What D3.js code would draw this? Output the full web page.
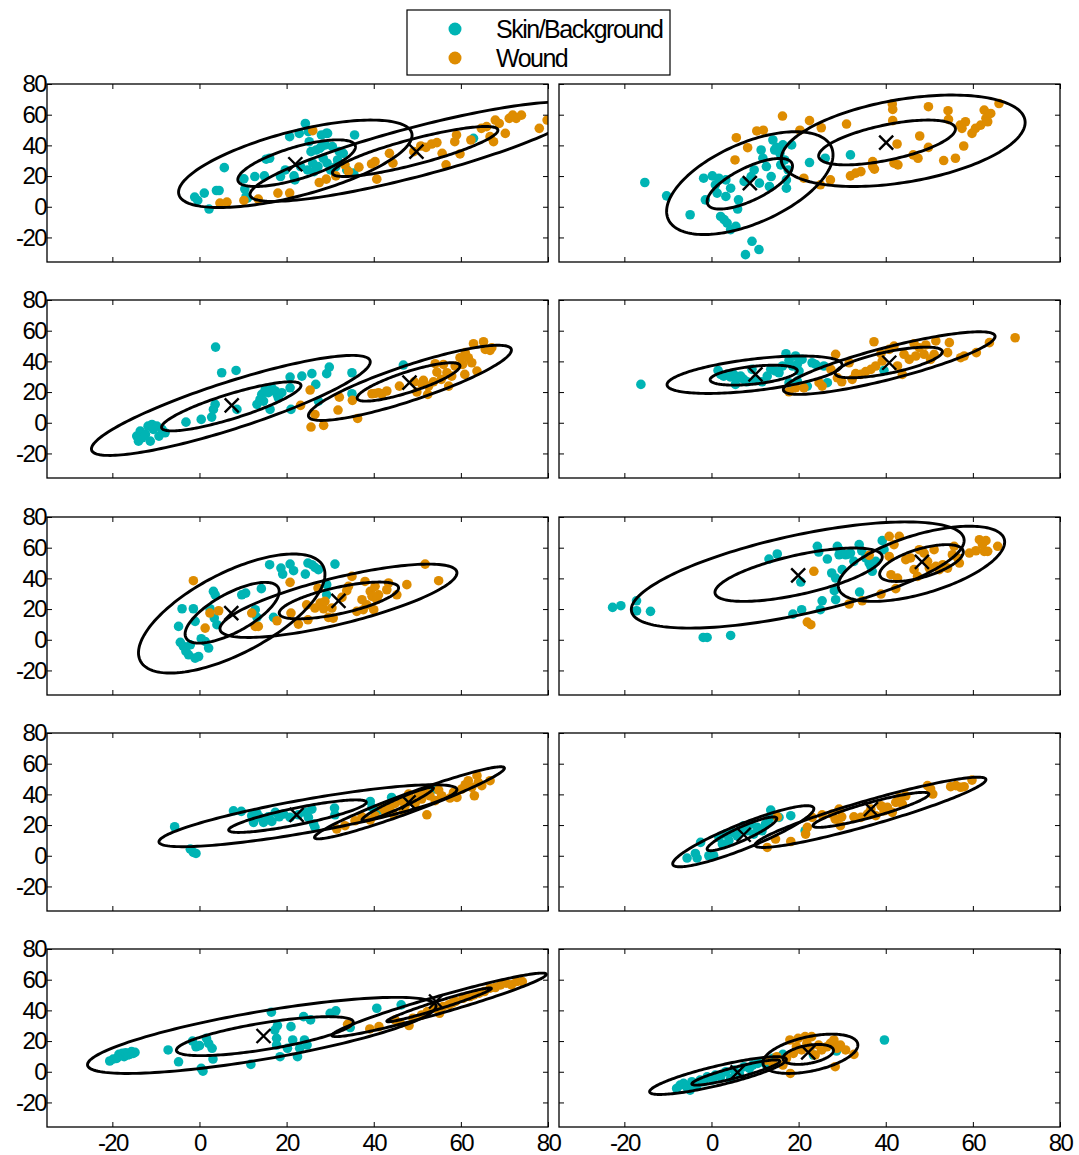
<!DOCTYPE html>
<html>
<head>
<meta charset="utf-8">
<script src="https://cdn.jsdelivr.net/npm/d3@7"></script>
<style>
  body { margin: 0; background: #fff; }
  svg text { font-family: "Liberation Sans", Arial, sans-serif; font-size: 24px; letter-spacing: -1.6px; fill: #000; }
</style>
</head>
<body>
<svg id="fig" width="1079" height="1155"></svg>
<script>
// tick values
var xTicks = [-20, 0, 20, 40, 60, 80];
var yTicks = [-20, 0, 20, 40, 60, 80];
var classNames = ["Skin/Background", "Wound"];

// scatter points per panel, [x, y]
var skin1 = [[-1.1,6.3],[-0.4,4.1],[1.1,8.9],[2.2,-1.5],[3.9,10.6],[4.5,10.6],[5.7,25.5],[10.4,11.5],[10.7,6.7],[11,5.6],[10.2,18.2],[12.7,19.7],[14.9,20.1],[15.3,31],[16.1,31.6],[18.6,19.7],[19.7,24],[20.7,45.7],[21.7,20.1],[21.9,17.5],[22.9,47.8],[23.2,26.2],[24.3,54.3],[24.8,24],[25,48.9],[25.2,42.4],[25.6,35.9],[26,28.4],[26.3,22.9],[26.8,37],[27.2,26.2],[27.6,38.1],[28,46.8],[28.4,31.6],[29.1,47.8],[29.4,47.8],[28,39.2],[28.9,40.3],[29.3,28.4],[30.1,24],[30.5,39.2],[31.3,26.2],[31.7,30.5],[32.1,35.9],[33,34.8],[33.8,24],[35.4,21.9],[35.6,46.8],[62.9,44.6]];
var wound1 = [[4.7,2.4],[6.3,3],[10.2,4.1],[13.5,5],[18,8.9],[20.7,8.9],[26,49.6],[27.5,15.8],[29.1,18],[31.3,20.1],[33.4,27.3],[34.2,22.9],[36.6,25.8],[39.5,27.9],[40.3,29.4],[40.7,18],[43.6,34.8],[44.4,28.4],[49.2,35.9],[50.8,39.6],[52,38.7],[53.3,40.9],[54.5,41.8],[55.7,34.8],[56.6,27.3],[58.6,42.4],[59,46.8],[59.8,34.4],[62.3,43.5],[64.7,51.1],[65.9,52.2],[66.7,45.7],[67.5,42.4],[67.9,56.5],[68.8,54.3],[70.2,47.8],[71.1,57.6],[71.9,59.7],[72.7,57.6],[73.9,59.7],[78,51.1],[79.8,56.5]];
var skin2 = [[-15.3,15.8],[-10.3,7.1],[-4.9,-5.2],[-1.8,18.6],[-1.4,4.5],[0.2,20.1],[0.9,14.3],[1.3,8.9],[1.7,18.6],[2.1,-6.3],[2.9,-8.4],[3.3,17.5],[3.3,6.7],[3.6,-10.6],[4.4,-14.9],[4.4,12.1],[5.6,-12.8],[6,-1.5],[6.2,4.5],[7.8,-31.2],[9.3,-22.5],[10.9,-27.9],[7.5,16.5],[9.1,19.7],[9.8,24],[11,15.4],[11.4,37],[11.8,31.6],[12.6,26.2],[13.3,13.2],[13.7,19.7],[14.1,43.5],[14.5,37],[14.9,38.7],[15.7,34.8],[15.9,27.3],[16.4,40.3],[16.8,30.5],[17.2,12.1],[17.6,24],[18.4,40.3],[17.2,17.5],[22.5,28.8],[26.1,31.6],[31.9,33.8]];
var wound2 = [[5.4,30.5],[5.7,45],[8.3,38.5],[10.4,49.4],[11.9,49.9],[16.3,59.1],[20.3,49.9],[22.5,56.1],[21.2,18.6],[25,14.3],[25.2,51.5],[27.3,17.5],[31,53.9],[31.9,20.1],[33.1,21.9],[34.3,22.9],[37,26.2],[37,29.4],[37.4,24.5],[41.5,66.9],[41.6,63.4],[41.6,56.1],[42.6,40.9],[41.9,28.4],[42.8,27.3],[46.3,33.8],[47.4,31.6],[47.8,46.1],[49.8,65.2],[49.8,38.7],[53.3,30.1],[54.3,62.6],[54.4,56.9],[56,31.6],[57.1,53.2],[57.5,51.1],[58.3,55.4],[57.9,39.6],[59.8,47.8],[60.6,51.1],[61.8,53.2],[62.6,63],[63,57.6],[63.4,55.4],[64.1,60.8],[66,67.3]];
var skin3 = [[-14.4,-8.7],[-14,-12],[-13.2,-9.8],[-13.6,-5.4],[-12.4,-7.6],[-11.8,-2.2],[-11.3,-12],[-10.9,-1.1],[-10.6,-4.3],[-9.8,-2.2],[-9.3,-8.7],[-8.6,-4.3],[-7.9,-6.5],[-3.1,0.4],[0.4,2.2],[2.8,3.7],[3.2,8.7],[3.6,12],[3.7,49.3],[5.1,32.6],[8.4,34.1],[8.6,8.7],[13.2,12],[13.9,15.2],[14.3,18.5],[14.7,14.1],[15.1,21.7],[15.8,19.6],[16.2,8.7],[16.6,22.8],[17.4,20.7],[17.8,18.5],[18.1,16.3],[18.9,19.6],[20.8,29.8],[20.8,22.8],[21,8.7],[23.5,30.4],[25.8,32],[26.7,25],[27.3,14.1],[29.2,32],[29.8,36.3],[35,32.6],[35,18.9],[46.8,37.6]];
var wound3 = [[23.2,11.3],[25.4,21.3],[25.6,-2.8],[26.5,5.4],[28.5,-1.7],[31.8,8.3],[32.1,16.7],[35.1,14.6],[36.3,2.8],[39.6,18.9],[40.3,19.1],[41.1,19.6],[41.9,18.9],[43,20.7],[45.9,23.9],[49.3,26.7],[49.9,20],[51,25.4],[51.4,27.6],[52.4,18.5],[52.6,23.9],[53.7,26.7],[54.1,38.5],[54.5,33],[55.5,28.3],[56,38],[56.8,32.6],[57.2,23.9],[57.9,30.4],[58.7,37],[59.8,42.4],[60.4,38],[61,45.7],[60.9,31.5],[61.7,42.4],[62.5,39.1],[62.9,51.5],[63.7,33.7],[65.2,52.8],[65.6,47.8],[66.7,47.2],[67.1,48.9]];
var skin4 = [[-16.2,25],[1.5,34.1],[2.1,31.5],[2.8,30.4],[3.6,31.5],[4.4,29.8],[5.1,31.5],[5.5,25],[5.9,29.3],[6.7,30.4],[7.4,28.3],[8.2,26.7],[9.3,34.8],[10.1,28.3],[11.6,26.7],[12.8,30.4],[13.6,34.8],[14.7,33.7],[15.5,32.6],[16.3,37],[17.1,45],[17.8,40.7],[18.6,37],[19.3,43.5],[19.7,38],[20.1,33.7],[20.8,41.3],[17.8,26.1],[18.9,25],[19.7,27.2],[22,23.9],[23.1,39.1],[23.9,38],[25.8,37],[26.6,26.1],[39.6,34.1]];
var wound4 = [[17.8,20.2],[19.3,22.8],[21.2,22.8],[24.7,26.1],[25.4,23.9],[27.4,34.8],[28.5,44.6],[28.9,29.3],[29.9,26.7],[31.6,39.1],[32.3,28.3],[33.1,32],[34.3,31.5],[35.4,33.3],[36.6,34.8],[37.3,52.8],[37.7,37],[38.9,45],[39.2,40.2],[40.8,47.8],[41.9,50],[42.7,37],[43.8,31.5],[44.2,44.6],[45.4,41.3],[46.5,51.5],[46.9,43.5],[47.7,48.9],[48.8,44.6],[49.2,50.7],[50.3,41.3],[51.1,44.6],[51.5,53.3],[54.2,45.7],[54.6,52.2],[57.2,42.4],[58,43.5],[60.8,45.7],[63.8,52.2],[69.7,55.4]];
var skin5 = [[-4.8,8.7],[-4.4,-1.7],[-4,20.2],[-3.7,-4.3],[-3.1,-7.6],[-2.5,-9.8],[-2.1,-3.3],[-1.4,20.2],[-1,12],[-1,-12],[-0.2,-10.9],[0.4,0.7],[1.3,-1.1],[2.4,20.2],[2.1,-5.4],[3.2,31.5],[3.4,14.1],[3.6,29.3],[4,9.8],[9.7,29.3],[10.6,30.4],[12.8,19.6],[13.2,14.6],[14.2,33.3],[16.1,48.9],[17,14.6],[18.7,46.7],[19.1,42.8],[20.8,49.3],[21.6,45],[24.3,42.8],[24.9,50],[25.8,48.9],[26.5,47.2],[27.3,45.7],[29.2,35.9],[29.2,29.3],[31.1,49.3]];
var wound5 = [[-1.4,38.5],[1.3,7.6],[2.4,17.4],[4.4,18.9],[12,17.4],[12.8,8.7],[13.5,8.7],[17.8,12.4],[20.8,37.4],[21,17.4],[22.7,10.2],[24.6,22.8],[24.9,13],[26.5,20.7],[27.2,33.7],[27.7,23.9],[28.5,20.2],[28.8,25],[29.6,14.6],[30.4,20.7],[30.7,14.1],[32.7,27.6],[33.8,32],[34.2,34.8],[35,41.3],[36.1,18.5],[37.3,26.1],[37.6,19.6],[38,38],[38.4,22.8],[39.2,31.5],[39.6,28.3],[40,19.6],[40.3,34.8],[40.7,26.1],[41.1,29.3],[43,32.6],[43.4,37],[45.3,29.3],[47.6,35.9],[51.8,49.3],[54.9,38.5]];
var skin6 = [[-22.7,21.1],[-20.8,22.2],[-17.2,25.4],[-17.2,18.9],[-14,18.5],[-1.9,1.5],[-1,1.5],[4.4,2.8],[13.2,52.6],[15.1,55.9],[18.7,16.7],[20.5,37.6],[20.7,19.6],[24.3,60.9],[24.6,57.2],[25,19.6],[25.4,25.4],[26.6,52.6],[27.6,43.5],[28.2,32],[28.5,26.1],[28.5,40.2],[28.9,60.9],[29.3,55.4],[29.6,58],[30,45.7],[30.8,55.4],[31.6,55.9],[31.9,56.5],[32.7,51.1],[33.9,62],[34,31.1],[34.5,58],[35.4,53.3],[36.2,50],[36.6,47.8],[36.9,44.6],[37.7,51.1],[39.2,64.6],[39.6,58.7]];
var wound6 = [[22,11.5],[22.8,9.8],[23.5,44.6],[31.6,23.3],[34.6,25.4],[36.2,55],[38.9,29.8],[40.8,67.4],[43.1,67.4],[41.9,62],[40.8,54.3],[41.2,42.4],[42.3,33.3],[42.7,40.2],[44.6,52.2],[45.7,53.3],[46.5,45.7],[47.3,41.3],[47.7,58.7],[48.8,56.5],[49.6,51.1],[50,46.7],[51.1,58.7],[51.5,47.8],[52.3,45.7],[53.1,48.9],[54.2,46.7],[55.3,55.4],[55.7,60.9],[56.5,53.3],[56.9,50],[59.2,56.5],[60.7,58],[61.5,65.2],[62.2,62],[63,64.6],[62.6,57.6],[63.4,57.6],[65.7,60.9]];
var skin7 = [[-5.7,18.9],[-2.1,4.3],[-1.4,2.2],[-0.8,1.5],[7.8,29.3],[9.6,28.9],[12,26.1],[12.4,21.7],[13.2,27.6],[13.9,25],[14.7,21.7],[15.8,25.4],[16.6,22.4],[17.4,28.3],[18.3,25.4],[19.3,27.2],[20.8,25],[22.7,26.7],[24.3,28.3],[25,25],[25.8,30.4],[26.2,20.7],[26.5,18.5],[31,31.1],[31.1,26.7],[39.2,35.4],[39.6,31.5],[41.1,29.8],[44.1,38],[48,35.4],[53.7,43.5]];
var wound7 = [[31.5,17.4],[33.4,19.6],[35.7,22.8],[37.3,25.4],[39.2,23.3],[40.3,26.1],[41.9,31.5],[42.6,29.3],[43.8,32],[44.5,27.2],[44.9,34.1],[46.1,35.9],[46.8,29.3],[47.2,32.6],[48,40.2],[48.7,37],[49.5,34.1],[50.3,40.2],[51,37],[51.8,42.4],[52.2,26.7],[52.9,39.1],[54.1,35.9],[54.9,42.8],[55.6,39.1],[57.5,37.6],[58.3,41.3],[59.1,38],[60.2,43.5],[61,46.3],[61.7,48.9],[62.5,44.6],[63.1,39.1],[63.7,52.2],[64,47.8],[64.8,45.7],[66.7,48.9]];
var skin8 = [[-5.6,-1.5],[-3.7,1.5],[-3.3,-1.5],[-2.5,8.7],[-0.6,0],[0.5,0],[1.7,12],[2.5,7.6],[3.2,14.1],[4,9.8],[4.8,15.2],[5.9,13],[6.7,17.4],[7.4,19.6],[8.2,16.3],[9,20.7],[9.7,14.1],[10.5,18.5],[11.6,16.3],[12.4,20.7],[13.2,23.9],[13.6,29.8],[14.3,26.1],[15.5,25],[18.2,26.1],[21.5,16.3]];
var wound8 = [[12.8,5.4],[14.7,10.9],[15.1,25.4],[18.2,9.3],[21.6,14.1],[22,18.5],[23.1,25],[25.4,26.7],[27.7,27.2],[28.4,23.9],[29.3,30.4],[29.6,19.6],[29.9,25.4],[32.7,25.4],[34.3,25],[35.8,27.2],[36.6,30.4],[37.7,26.1],[38.9,32.6],[39.6,29.3],[40.4,31.5],[41.5,28.3],[42.3,34.8],[43.1,38],[43.8,33.7],[44.6,39.1],[49.6,45.7],[50.3,43.5],[50.8,40.2],[54.9,45],[56.1,45.7],[57.2,44.6],[58,45],[59.8,49.3]];
var skin9 = [[-20.6,7],[-19.8,8.3],[-19,8.7],[-18.5,11.3],[-18.1,10.5],[-17.7,12],[-17.3,9.8],[-16.9,12.4],[-16.5,10.9],[-16,11.3],[-15.6,13.1],[-15.2,12],[-14.8,12.6],[-7.2,14.2],[-4.8,6.5],[-1.6,20],[-0.8,16.3],[0,17],[0.4,2.2],[0.8,0.4],[1.6,21.8],[2.1,18.5],[2.9,15.3],[3.1,8.3],[11.8,4.8],[16.5,38.8],[17.3,27.2],[17.7,21.8],[17.7,17.4],[17.9,30.1],[18.5,9.8],[20.2,15.3],[21,29.4],[21.4,20.7],[22.5,9.8],[23,15.3],[23.9,35.9],[24.1,20.7],[24.7,17.4],[25.5,33.8],[30,38.1],[31.3,39.7],[34.6,28.8],[40.7,41.4],[46.3,43.6]];
var wound9 = [[34,30.9],[39.1,27.9],[41.2,29.4],[44.9,33.8],[46.1,31.6],[48.1,30.1],[49,34.9],[51,37],[52.3,39.2],[53.9,41.4],[55.1,38.1],[55.9,42.5],[57.2,43.6],[58,44.7],[58.8,45.8],[60.5,47.9],[61.3,49],[62.1,49],[63,50.1],[64.2,51.2],[65.4,52.3],[66.7,54.5],[67.9,54.9],[69.1,56.6],[70.4,57.7],[71.6,56.6],[72.8,58.8],[74.1,58.8]];
var skin10 = [[-8,-10.9],[-7.2,-8.7],[-6.4,-7.6],[-5.7,-9.8],[-4.9,-12],[-4.5,-6.5],[-3.3,-8.7],[-2.6,-5.4],[-1.8,-6.5],[-1,-3.3],[0.2,-5.4],[0.9,-2.2],[2.1,-3.3],[3.3,0],[4.4,-4.4],[5.2,1.1],[6.4,-1.1],[7.5,3.3],[8.7,2.2],[9.5,4.4],[10.6,5.4],[11.8,6.5],[12.6,4.4],[14.1,8.7],[16.4,11.3],[23.4,10.9],[28.7,13.5],[39.7,20.7]];
var wound10 = [[12.6,7.6],[14.1,5.4],[15,9.8],[16.4,4.4],[17.2,8.7],[18,20.7],[18.1,-1.1],[18.8,12],[19.5,16.3],[19.9,21.8],[20.7,14.2],[21.5,22.9],[21.9,18.5],[22.6,15.3],[23,22.9],[23.8,10.9],[24.6,17.4],[25.3,14.2],[26.5,16.3],[27.3,18.5],[28.1,20.7],[28.4,3.3],[28.8,15.3],[29.6,17.4],[30.8,14.2],[32.7,11.3]];

var skinPoints = [skin1, skin2, skin3, skin4, skin5, skin6, skin7, skin8, skin9, skin10];
var woundPoints = [wound1, wound2, wound3, wound4, wound5, wound6, wound7, wound8, wound9, wound10];

// class means (the X marks)
var skinMean = [[22,27.7],[8.8,15.4],[7.4,11.3],[10.1,31.5],[7.3,17.4],[19.9,42],[22.3,26.7],[7.4,13.7],[14.7,23.3],[6,-0.4]];
var woundMean = [[49.8,35.9],[40.1,41.8],[48.2,26.1],[40.8,39.1],[31.9,25.4],[48.3,50.7],[48,34.8],[36.6,30.4],[54.3,45.8],[22.2,12.6]];

// density contours: [centre x, centre y, half range x, half range y, correlation]
var skinInner = [[22.3,28.4,13.5,15.2,0.7],[8.8,15,9.8,16.5,0.7],[7.3,10.7,16,16,0.85],[9.7,31,10,6.5,0.45],[7.5,17.6,10.8,19.8,0.7],[20,42.4,19.2,17.4,0.66],[22.5,25.8,15.8,10.6,0.85],[7,14.3,8,11,0.9],[15,23.2,20.3,12.7,0.72],[5.6,-0.5,10.1,8.2,0.9]];
var skinOuter = [[22,28,26.8,28.5,0.65],[8.8,15.4,19.1,33.5,0.55],[7.2,11.3,32,32.6,0.87],[9.9,31.3,20.1,12.2,0.53],[7.4,17.1,21.4,38.8,0.66],[19.8,42.2,38.2,34.6,0.65],[24.9,26.1,34.2,20.2,0.84],[7.3,12.7,16.2,19.9,0.9],[14.3,23.7,40,24.8,0.77],[1.5,-2.5,15.7,12.3,0.85]];
var woundInner = [[49.5,36,19,16.3,0.85],[40.3,41.9,15.7,14.6,0.6],[48,26.6,11.8,12.5,0.83],[40.7,39.3,12.3,10,0.7],[32,25.6,13.7,12,0.68],[48.2,50,9.6,12,0.6],[45.5,33.7,8.2,10.9,0.95],[36.6,29.9,13.3,11.4,0.9],[55,43.6,12,11,0.97],[22.2,11.3,5.8,6.5,0.4]];
var woundOuter = [[49.8,35.9,38.2,32.4,0.86],[44,43,28,29.8,0.4],[48.3,26,23.3,24.5,0.87],[40.8,38.9,24.3,20.4,0.85],[31.9,25.4,27.2,23.9,0.76],[48.2,49.5,19.1,24.5,0.58],[48.2,34.5,21.8,23.5,0.96],[36.5,28.3,26.5,22.9,0.93],[55,43.6,24.6,20.7,0.96],[22.7,11.7,10.9,12.8,0.45]];

var skinColor = "#00b4b4";
var woundColor = "#de8c00";

var svg = d3.select("#fig");

var colLeft = [47, 559];
var rowTop = [84, 300, 517, 733, 949];
var pw = 501, ph = 178;

var x = d3.scaleLinear().domain([-35, 80]).range([0, pw]);
var y = d3.scaleLinear().domain([-36, 80]).range([ph, 0]);

var line = d3.line()
  .x(function(d) { return x(d[0]); })
  .y(function(d) { return y(d[1]); })
  .curve(d3.curveLinearClosed);

// ellipse outline from centre, ranges and correlation
function ellipse(e) {
  var s = Math.sqrt(1 - e[4] * e[4]);
  return d3.range(0, 2 * Math.PI, Math.PI / 90).map(function(t) {
    return [e[0] + e[2] * Math.cos(t), e[1] + e[3] * (e[4] * Math.cos(t) + s * Math.sin(t))];
  });
}

// plain hyphen minus like the original
var tickText = function(d) { return String(d); };

svg.append("rect").attr("width", 1079).attr("height", 1155).attr("fill", "#fff");

skinPoints.forEach(function(sp, i) {
  var col = i % 2, row = Math.floor(i / 2);
  var g = svg.append("g")
    .attr("transform", "translate(" + colLeft[col] + "," + rowTop[row] + ")");

  g.append("clipPath").attr("id", "clip" + i)
    .append("rect").attr("width", pw).attr("height", ph);

  var plot = g.append("g").attr("clip-path", "url(#clip" + i + ")");

  plot.selectAll("circle.skin")
    .data(sp)
    .enter().append("circle")
    .attr("class", "skin")
    .attr("cx", function(d) { return x(d[0]); })
    .attr("cy", function(d) { return y(d[1]); })
    .attr("r", 4.8)
    .attr("fill", skinColor);

  plot.selectAll("circle.wound")
    .data(woundPoints[i])
    .enter().append("circle")
    .attr("class", "wound")
    .attr("cx", function(d) { return x(d[0]); })
    .attr("cy", function(d) { return y(d[1]); })
    .attr("r", 4.8)
    .attr("fill", woundColor);

  plot.selectAll("path.contour")
    .data([skinInner[i], skinOuter[i], woundInner[i], woundOuter[i]])
    .enter().append("path")
    .attr("class", "contour")
    .attr("d", function(e) { return line(ellipse(e)); })
    .attr("fill", "none")
    .attr("stroke", "#000")
    .attr("stroke-width", 2.9);

  plot.selectAll("path.mean")
    .data([skinMean[i], woundMean[i]])
    .enter().append("path")
    .attr("class", "mean")
    .attr("transform", function(d) { return "translate(" + x(d[0]) + "," + y(d[1]) + ")"; })
    .attr("d", "M-7,-7L7,7M-7,7L7,-7")
    .attr("stroke", "#000")
    .attr("stroke-width", 2.4);

  // axes with inside ticks on every side
  var bottom = d3.axisBottom(x).tickValues(xTicks).tickSizeInner(-5).tickSizeOuter(0).tickPadding(7).tickFormat(tickText);
  if (row < 4) bottom.tickFormat("");
  var left = d3.axisLeft(y).tickValues(yTicks).tickSizeInner(-5).tickSizeOuter(0).tickPadding(1).tickFormat(tickText);
  if (col > 0) left.tickFormat("");

  g.append("g").attr("transform", "translate(0," + ph + ")").call(bottom);
  g.append("g").call(d3.axisTop(x).tickValues(xTicks).tickSizeInner(-5).tickSizeOuter(0).tickFormat(""));
  g.append("g").call(left);
  g.append("g").attr("transform", "translate(" + pw + ",0)")
    .call(d3.axisRight(y).tickValues(yTicks).tickSizeInner(-5).tickSizeOuter(0).tickFormat(""));

  g.selectAll(".domain").remove();
  g.selectAll(".tick line").attr("stroke", "#000").attr("stroke-width", 1);
  g.selectAll(".tick text").attr("font-size", null).attr("font-family", null);

  g.append("rect")
    .attr("width", pw).attr("height", ph)
    .attr("fill", "none").attr("stroke", "#000").attr("stroke-width", 1.3);
});

// legend
var legend = svg.append("g").attr("transform", "translate(407,10)");
legend.append("rect").attr("width", 263).attr("height", 65)
  .attr("fill", "#fff").attr("stroke", "#000").attr("stroke-width", 1.2);
legend.selectAll("circle")
  .data(classNames)
  .enter().append("circle")
  .attr("cx", 48)
  .attr("cy", function(d, i) { return 19 + i * 29; })
  .attr("r", 6.5)
  .attr("fill", function(d, i) { return i === 0 ? skinColor : woundColor; });
legend.selectAll("text")
  .data(classNames)
  .enter().append("text")
  .attr("x", 89)
  .attr("y", function(d, i) { return 28 + i * 29; })
  .style("font-size", "25px")
  .style("letter-spacing", "-1.5px")
  .text(function(d) { return d; });
</script>
</body>
</html>
